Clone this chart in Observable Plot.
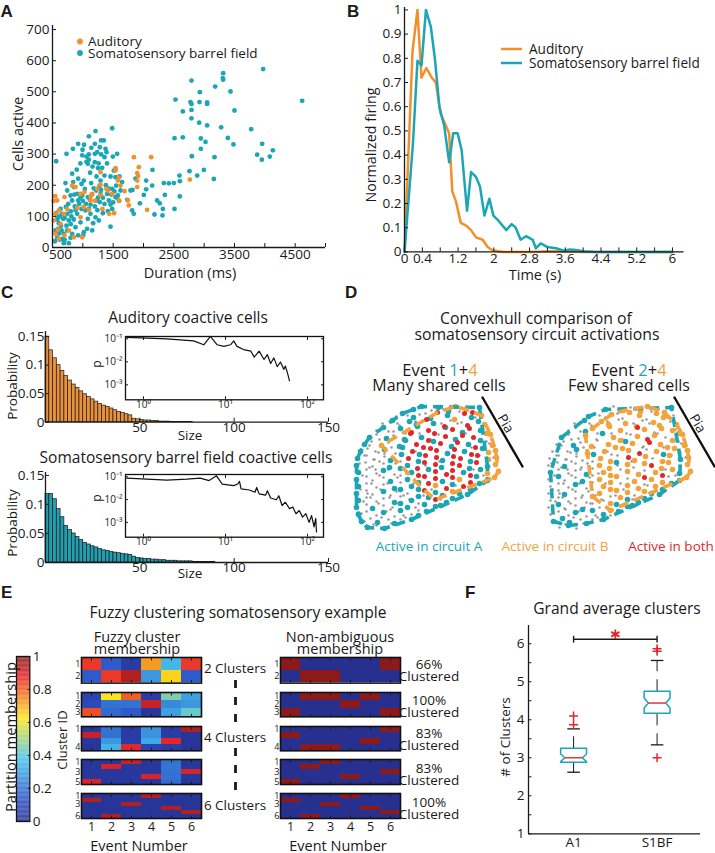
<!DOCTYPE html>
<html><head><meta charset="utf-8">
<script src="https://cdn.jsdelivr.net/npm/d3@7"></script>
<script src="https://cdn.jsdelivr.net/npm/@observablehq/plot@0.6"></script>
<style>
body{margin:0;background:#fff;}
#fig{position:relative;width:715px;height:853px;overflow:hidden;background:#fff;}
#fig svg{overflow:visible;}
</style></head><body><div id="fig"></div>
<script>
// ================= DATA =================
// Panel A: duration (ms) vs cells active
const audPts = [[577,151],[698,162],[824,199],[962,172],[1027,178],[989,33],[1154,172],[1126,164],[1291,242],[1291,202],[1236,188],[1390,188],[1412,183],[1538,247],[1577,215],[1593,224],[1687,181],[1742,151],[1758,135],[1896,194],[1896,239],[1923,258],[1841,290],[2126,290],[2060,121],[2764,218],[1434,108],[1516,110],[522,87],[549,108],[604,119],[687,108],[632,76],[588,57],[549,44],[769,55],[852,33],[962,97],[907,127],[1016,130],[1099,121],[1324,124],[742,124],[604,28],[698,39],[1484,172],[1126,151],[879,194],[1621,199],[1291,167],[1896,215],[1593,151],[1540,255],[1910,230],[520,150],[545,165],[1200,150]];
const somPts = [[2527,475],[2648,437],[2791,536],[2775,467],[2791,461],[2791,442],[2791,415],[2929,499],[2923,467],[3049,466],[3049,461],[2918,401],[3049,392],[3181,517],[3313,560],[3307,544],[3313,539],[3434,501],[3500,440],[3280,386],[3390,352],[3483,331],[3775,380],[3972,573],[4615,471],[3956,333],[4132,312],[4082,292],[3951,282],[3874,298],[3170,290],[2797,293],[2945,350],[3022,339],[2945,317],[2511,351],[2648,354],[2758,245],[2885,231],[2995,249],[3159,220],[2593,231],[2599,213],[2599,164],[2511,124],[2500,207],[2335,207],[2352,169],[2225,151],[2269,142],[2319,124],[2313,103],[2181,106],[2418,206],[2143,199],[2044,215],[2044,187],[2005,169],[2148,249],[1940,142],[1868,221],[1819,185],[1813,119],[1840,108],
[560,277],[731,301],[836,317],[923,333],[995,314],[1099,357],[1198,333],[1209,374],[1302,344],[1280,322],[1099,299],[1060,292],[1060,275],[1082,269],[1099,282],[1198,301],[1198,274],[1302,299],[1319,256],[1374,317],[1390,306],[1495,292],[1484,383],[1566,301],[1538,253],[1357,290],[1236,306],[1346,344],[989,296],
[714,207],[824,237],[841,210],[978,204],[1033,188],[1137,207],[1225,228],[1291,215],[1275,198],[1220,183],[1291,172],[1357,231],[1456,228],[1511,247],[1538,226],[1604,228],[1648,210],[1549,199],[1577,167],[1538,162],[1429,151],[1357,140],[1484,124],[1412,117],[1456,67],[1280,146],[1198,132],[1126,138],[1082,162],[989,167],[923,151],[868,132],[802,116],[978,124],[1044,119],[1126,108],[1209,97],[1264,87],[1082,92],[962,81],[879,65],[1016,49],[1005,39],[923,39],[824,44],[797,31],[742,55],[687,44],[659,28],[621,25],[577,31],[676,92],[742,108],[632,124],[588,97],[604,78],[549,55],[769,14],[687,14],[907,108],[1115,153],[1231,151],[907,172],[797,167],[742,183],[852,194],[659,108],[1154,55],[1170,78],[1401,172],[1484,188],[1621,183],[1731,153],[1786,183],[1456,138],[1016,215],[923,221],[824,151],[769,87],
[560,110],[590,60],[610,45],[640,70],[700,95],[720,130],[760,140],[810,100],[850,90],[880,120],[940,140],[960,160],[1000,150],[1050,140],[1100,125],[1150,170],[1180,190],[1250,160],[1300,185],[1330,160],[1380,200],[1420,190],[1470,170],[1520,180],[1560,160],[1600,150],[1120,240],[1160,260],[1250,255],[900,250],[960,270],[1020,330],[1140,320],[1260,270],[1400,270],[580,90],[620,100],[650,55],[700,25],[730,70],[1070,60],[1240,120],[1330,110],[1500,145],[540,20],[800,75],[860,170]];
const aTicksX = [1500,2500,3500,4500];
const aTickFirst = [500];
const aTicksY = [0,100,200,300,400,500,600,700];

// Panel B: normalized firing vs time (s)
const audT = [0,0.18,0.29,0.38,0.49,0.61,0.70,0.81,0.93,1.00,1.07,1.15,1.26,1.37,1.49,1.60,1.75,1.86,1.97,2.2,2.8,3.3,4.0,6.0];
const audV = [0,0.83,1.0,0.72,0.76,0.72,0.70,0.57,0.52,0.49,0.25,0.21,0.12,0.11,0.09,0.06,0.05,0.02,0.007,0,0,0.003,0,0];
const somT = [0,0.19,0.29,0.38,0.48,0.59,0.68,0.78,0.89,1.00,1.09,1.19,1.28,1.40,1.49,1.60,1.69,1.79,1.90,1.99,2.10,2.28,2.40,2.49,2.60,2.72,2.87,2.94,3.05,3.20,3.39,3.57,3.70,3.84,4.00,4.28,6.0];
const somV = [0,0.45,0.79,0.77,1.0,0.93,0.80,0.60,0.52,0.37,0.49,0.49,0.42,0.17,0.33,0.31,0.27,0.15,0.22,0.15,0.13,0.09,0.115,0.10,0.05,0.065,0.05,0.015,0.035,0.02,0.015,0.005,0.01,0.008,0.003,0,0];
const bTickLabels = [0,0.4,1.2,2,2.8,3.6,4.4,5.2,6];

// Panel C: size histograms (bins of 2) and log-log insets
const audHist = [0.150,0.126,0.112,0.100,0.090,0.081,0.073,0.066,0.060,0.054,0.049,0.044,0.040,0.036,0.032,0.029,0.027,0.024,0.021,0.018,0.016,0.014,0.012,0.006,0.005,0.004,0.003,0.003,0.002,0.002,0.001,0.001,0.001,0.0006,0.0005,0.0005,0.0004,0.0004,0.0003];
const somHist = [0.118,0.118,0.109,0.092,0.078,0.063,0.056,0.050,0.044,0.039,0.034,0.031,0.028,0.026,0.023,0.021,0.020,0.018,0.017,0.016,0.015,0.014,0.013,0.010,0.008,0.007,0.006,0.006,0.005,0.005,0.004,0.004,0.003,0.003,0.003,0.002,0.002,0.002,0.002,0.001,0.001,0.001,0.001,0.001,0.001];
const audInSize = [0.625,1.93,4.09,5.43,6.55,7.91,9.55,11.5,12.6,13.8,16.6,20.4,22.4,25.7,29.5,32.4,35.5,38.9,42.7,46.8,51.3,53.7,57.5,60.3];
const audInP = [0.115,0.1,0.081,0.055,0.126,0.055,0.047,0.055,0.081,0.047,0.034,0.029,0.016,0.029,0.0126,0.0204,0.0085,0.0148,0.0062,0.0098,0.0047,0.0065,0.0029,0.0015];
const somInSize = [0.625,1.93,3.39,4.9,6.31,7.76,9.12,12.6,14.1,14.8,15.5,19.5,22.9,24,25.7,30.9,32.4,35.5,41.7,44.7,49,53.7,60.3,66.1,72.4,79.4,87.1,95.5,104.7,112.2,120.2,125.9,128.8];
const somInP = [0.087,0.072,0.079,0.087,0.068,0.11,0.048,0.041,0.048,0.063,0.0295,0.0263,0.0209,0.0339,0.0178,0.0158,0.0245,0.0117,0.0098,0.0148,0.0055,0.0076,0.004,0.0047,0.0024,0.0033,0.0017,0.0024,0.001,0.002,0.00063,0.0015,0.00038];

// Panel D: cell positions (rows) and activity per event pair
const cellU = [
[58,66,76,83,93,100,111,117,124],
[41,47,58,64,75,82,92,99,109,116,126],
[27,37,44,54,61,71,78,89,95,106,112,123,129],
[21,28,38,45,56,62,73,79,90,97,107,114,125,131],
[14,21,31,38,49,55,66,73,83,90,100,107,118,125,135],
[9,16,26,33,44,50,61,68,78,85,96,102,113,120,131,137],
[5,12,23,29,40,47,57,64,75,81,92,99,109,116,127,133,140],
[2,11,18,29,35,46,53,63,70,81,87,98,105,115,122,133,141],
[1,10,17,28,34,45,52,62,69,80,86,97,104,114,121,132,140],
[3,11,21,28,39,45,56,63,73,80,91,97,108,115,125,132,143],
[1,11,17,28,35,45,52,63,69,80,87,97,104,115,121,132,139],
[3,11,21,28,39,45,56,63,73,80,91,97,108,115,124],
[1,11,17,28,35,45,52,63,69,80,87,97,104,112],
[3,11,21,28,39,45,56,63,73,80,91,97],
[1,11,17,28,35,45,52,63,69,80,85],
[3,11,21,28,39,45,56,63,71],
[6,15,22,33,39,50,56],
[12,21,29]];
const cellV = [
[6,3,7,4,8,3,6,9,4],
[13,10,14,11,15,9,12,16,10,14,12],
[20,17,22,18,21,16,20,23,17,19,22,18,21],
[27,24,28,25,29,23,27,30,24,26,29,25,27,30],
[34,31,35,32,36,30,34,37,31,33,36,32,34,37,31],
[41,38,42,39,43,37,41,44,38,40,43,39,41,44,38,42],
[48,45,49,46,50,44,48,51,45,47,50,46,48,51,45,49,47],
[55,52,56,53,57,51,55,58,52,54,57,53,55,58,52,56,54],
[62,59,63,60,64,58,62,65,59,61,64,60,62,65,59,63,61],
[69,66,70,67,71,65,69,72,66,68,71,67,69,72,66,70,68],
[76,73,77,74,78,72,76,79,73,75,78,74,76,79,73,77,74],
[83,80,84,81,85,79,83,86,80,82,85,81,83,86,80],
[90,87,91,88,92,86,90,93,87,89,92,88,90,91],
[97,94,98,95,99,93,97,100,94,96,99,95],
[104,101,105,102,106,100,104,107,101,103,102],
[111,108,112,109,113,107,111,112,108],
[118,115,119,116,120,114,116],
[124,122,125]];
// extra inactive cells (never active in either event pair)
const quietCells = [[4,60],[7,72],[5,86],[8,98],[6,110],[14,64],[16,80],[15,94],[18,106],[24,58],[24,72],[25,86],[23,100],[26,114],[33,66],[32,80],[34,94],[31,108],[40,60],[42,74],[41,88],[43,100],[48,112],[14,42],[20,48],[24,36],[33,28],[36,44],[42,20],[50,30],[52,12],[60,18],[70,10],[88,6],[104,8],[120,14],[128,26],[134,40],[138,54],[110,30],[95,44],[84,58],[70,62],[60,48],[75,36],[58,80],[68,92],[85,96],[100,82],[118,66],[128,72],[60,104],[48,92],[9,118],[18,121],[36,120],[45,116],[19,56],[29,50],[9,52],[12,90],[20,66],[37,104],[51,70],[64,30],[86,20],[102,20],[116,44],[124,52],[92,70],[76,86],[54,96]];
// a = active in circuit A, b = circuit B, r = both, g = inactive
const catEvent14 = ["aagaa bbra","gaaga rabra b","gagaa rargg rab","gagar arrar arab","agaga rargr arrab","agbga arrar arar gb","aggag arar rarar abb","aggga ararr arrar bb","aggga garrr arrar ab","aggag aarar rrara bb","aggga gaarr arbra ab","aggga gaarb raraa","aggag agara abaa","aggga gagar aa","agagg aagaa a","aggag agaa","agaga ga","aga"];
const catEvent24 = ["agbgb bgba","aggbg bbgbb g","gagbb gbbgb bgb","ggabg bbgrb gbbb","aggbg abbgb rbgbb","ggagb gbbab grbbg b","gggab gbgbb rgbab gb","ggggg abbgr bbgbb ab","ggagg gbbab gbrbb gb","aggga gbbgb bgbrb ab","gagga gbbbg brbbg ab","gggag gbbgb bgbaa","ggagg gbgbb gbaa","ggggg bgbba aa","gagga ggbaa a","gggag aaga","aaaga ga","gag"];

// Panel E: fuzzy memberships (rows = clusters, cols = events 1..6) and hard assignments
const fuzzy2 = [[0.85,0.15,0.05,0.72,0.35,0.85],[0.15,0.85,0.95,0.28,0.65,0.15]];
const fuzzy3 = [[0.08,0.62,0.80,0.05,0.45,0.30],[0.10,0.20,0.20,0.92,0.25,0.28],[0.82,0.18,0.15,0.03,0.30,0.42]];
const fuzzy4 = [[0.03,0.20,0.05,0.27,0.05,0.95],[0.92,0.20,0.05,0.27,0.05,0.02],[0.03,0.28,0.05,0.32,0.88,0.02],[0.02,0.34,0.88,0.08,0.05,0.02]];
const fuzzy5 = [[0.03,0.03,0.92,0.03,0.20,0.03],[0.03,0.90,0.03,0.03,0.21,0.03],[0.03,0.03,0.03,0.03,0.20,0.90],[0.03,0.03,0.03,0.90,0.20,0.03],[0.90,0.03,0.03,0.03,0.19,0.03]];
const fuzzy6 = [[0.02,0.02,0.02,0.95,0.02,0.02],[0.95,0.02,0.02,0.02,0.02,0.02],[0.02,0.02,0.95,0.02,0.02,0.02],[0.02,0.02,0.02,0.02,0.95,0.02],[0.02,0.02,0.02,0.02,0.02,0.95],[0.02,0.95,0.02,0.02,0.02,0.02]];
const hardAssign = [[1,2,2,0,0,1],[3,1,1,2,1,3],[2,4,4,0,3,1],[5,2,1,4,0,3],[2,6,3,1,4,5]];
const clusterCounts = [2,3,4,5,6];
const rowLabels = [[1,2],[1,2,3],[1,4],[1,3,5],[1,3,6]];
const pctClustered = ["66%","100%","83%","83%","100%"];
const eventNums = [1,2,3,4,5,6];

// Panel F: box plot statistics
const boxNames = ["A1","S1BF"];
const boxLo = [2.62,3.34], boxQ1 = [2.88,4.17], boxMed = [3.0,4.44], boxQ3 = [3.25,4.75], boxHi = [3.76,5.56];
const boxNotch = [0.1,0.13];
const outGroup = [1,1,2,2,2], outVal = [3.87,4.1,5.8,5.87,3.0];

// ================= HELPERS =================
const teal = "#1ba6b6", orange = "#f2902c", dOrange = "#f3a23c", red = "#e3262b", grayc = "#9a9a9a", ink = "#1a1a1a";
const FONT = "'Open Sans', sans-serif";
const fig = document.getElementById("fig");
function framePlot(x0, y0, x1, y1, opts, M = 40) {
  const w = x1 - x0, h = y1 - y0;
  const st = Object.assign({background: "transparent", fontFamily: FONT, fontSize: "13px", color: ink, overflow: "visible", maxWidth: "none"}, opts.style || {});
  const p = Plot.plot(Object.assign({width: w + 2*M, height: h + 2*M, marginLeft: M, marginRight: M, marginTop: M, marginBottom: M}, opts, {style: st}));
  const d = document.createElement("div");
  d.style.position = "absolute"; d.style.left = (x0 - M) + "px"; d.style.top = (y0 - M) + "px"; d.style.width = (w + 2*M) + "px";
  d.appendChild(p); fig.appendChild(d);
}
const fmt1 = d => String(+(+d).toFixed(2));
const blank = () => "";
const sup = {"-3":"⁻³","-2":"⁻²","-1":"⁻¹","0":"⁰","1":"¹","2":"²"};
const logFmt = d => "10" + sup[String(Math.round(Math.log10(d)))];
const jet = d3.scaleLinear().domain([0,0.125,0.375,0.625,0.875,1]).range(["#27308f","#2c4fc6","#46c3ee","#fde51a","#e8262a","#8c1a1b"]).clamp(true);

// ================= PANEL A =================
framePlot(52, 25, 325, 247, {
  x: {domain: [500, 5000]}, y: {domain: [0, 713]},
  style: {fontSize: "13.5px"},
  marks: [
    Plot.dot(somPts, {x: d => d[0], y: d => d[1], r: 2.4, fill: teal}),
    Plot.dot(audPts, {x: d => d[0], y: d => d[1], r: 2.4, fill: orange}),
    Plot.ruleX([500], {stroke: ink, strokeWidth: 1.3}),
    Plot.ruleY([0], {stroke: ink, strokeWidth: 1.3}),
    Plot.axisX(d3.range(500, 5001, 500), {tickSize: -4, tickFormat: blank, label: null}),
    Plot.axisX(aTicksX, {tickSize: 0, tickPadding: 2, tickFormat: d => String(d), label: null}),
    Plot.axisX(aTickFirst, {tickSize: 0, tickPadding: 2, dx: 8, tickFormat: d => String(d), label: null}),
    Plot.axisY(aTicksY, {tickSize: -4, tickFormat: blank, label: null}),
    Plot.axisY(aTicksY, {tickSize: 0, tickPadding: 3, tickFormat: d => String(d), label: null})
  ]
});

// ================= PANEL B =================
const audB = audT.map((t, i) => ({t, v: audV[i]}));
const somB = somT.map((t, i) => ({t, v: somV[i]}));
framePlot(403.7, 6.6, 683.3, 251, {
  x: {domain: [0, 6.26]}, y: {domain: [0, 1.01]},
  style: {fontSize: "13.5px"},
  marks: [
    Plot.line(audB, {x: "t", y: "v", stroke: orange, strokeWidth: 2.5}),
    Plot.line(somB, {x: "t", y: "v", stroke: teal, strokeWidth: 2.5}),
    Plot.ruleX([0], {stroke: ink, strokeWidth: 1.3}),
    Plot.ruleY([0], {stroke: ink, strokeWidth: 1.3}),
    Plot.axisX(d3.range(0, 16).map(i => i * 0.4), {tickSize: -4, tickFormat: blank, label: null}),
    Plot.axisX(bTickLabels, {tickSize: 0, tickPadding: 2, tickFormat: fmt1, label: null}),
    Plot.axisY(d3.range(0, 11).map(i => i / 10), {tickSize: -4, tickFormat: blank, label: null}),
    Plot.axisY(d3.range(0, 11).map(i => i / 10), {tickSize: 0, tickPadding: 3, tickFormat: fmt1, label: null})
  ]
});

// ================= PANEL C =================
function histPlot(vals, fill, y0, y1, ymax) {
  const bars = vals.map((v, i) => ({a: i * 2, b: i * 2 + 2, v}));
  framePlot(45, y0, 328, y1, {
    x: {domain: [0, 150]}, y: {domain: [0, ymax]},
    style: {fontSize: "13.5px"},
    marks: [
      Plot.rect(bars, {x1: "a", x2: "b", y1: 0, y2: "v", fill, stroke: "#1a1a1a", strokeWidth: 0.7}),
      Plot.ruleX([0], {stroke: ink, strokeWidth: 1.3}),
      Plot.ruleY([0], {stroke: ink, strokeWidth: 1.3}),
      Plot.axisX([50, 100, 150], {tickSize: -4, tickFormat: blank, label: null}),
      Plot.axisX([50, 100, 150], {tickSize: 0, tickPadding: 0, label: null}),
      Plot.axisY([0, 0.05, 0.1, 0.15], {tickSize: -4, tickFormat: blank, label: null}),
      Plot.axisY([0, 0.05, 0.1, 0.15], {tickSize: 0, tickPadding: 1, tickFormat: fmt1, label: null})
    ]
  });
}
function insetPlot(size, p, y0, y1) {
  const pts = size.map((s, i) => ({s, p: p[i]}));
  const xt = [1, 10, 100], yt = [0.1, 0.01, 0.001];
  framePlot(125, y0, 323, y1, {
    x: {type: "log", domain: [0.603, 156.7]}, y: {type: "log", domain: [Math.pow(10, -3.65), Math.pow(10, -0.9)]},
    style: {fontSize: "10px"},
    marks: [
      Plot.frame({fill: "white", stroke: "none"}),
      Plot.line(pts, {x: "s", y: "p", stroke: "#111", strokeWidth: 1.2}),
      Plot.frame({stroke: "#111", strokeWidth: 1.3}),
      Plot.axisX(xt, {anchor: "bottom", tickSize: -3, tickFormat: blank, label: null}),
      Plot.axisX(xt, {anchor: "top", tickSize: -3, tickFormat: blank, label: null}),
      Plot.axisX(xt, {anchor: "bottom", tickSize: 0, tickPadding: 1, tickFormat: logFmt, label: null}),
      Plot.axisY(yt, {anchor: "left", tickSize: -3, tickFormat: blank, label: null}),
      Plot.axisY(yt, {anchor: "right", tickSize: -3, tickFormat: blank, label: null}),
      Plot.axisY(yt, {anchor: "left", tickSize: 0, tickPadding: 3, tickFormat: logFmt, label: null})
    ]
  });
}
histPlot(audHist, "#ea903a", 331, 421.7, 0.159);
insetPlot(audInSize, audInP, 335.7, 399);
histPlot(somHist, "#1f9fb0", 471.7, 561.7, 0.155);
insetPlot(somInSize, somInP, 474, 536.7);

// ================= PANEL D =================
function cellsFor(cats) {
  const out = quietCells.map(([u, v]) => ({u, v, c: "g"}));
  cellU.forEach((row, r) => {
    const s = cats[r].replace(/\s/g, "");
    row.forEach((u, i) => out.push({u, v: cellV[r][i], c: s[i] || "g"}));
  });
  return out;
}
function convexPanel(cats, x0) {
  const cells = cellsFor(cats);
  const pia = [{u: 127, v: -6}, {u: 167, v: 63}];
  framePlot(x0, 403, x0 + 150, 528, {
    x: {domain: [0, 150], axis: null}, y: {domain: [0, 125], reverse: true, axis: null},
    marks: [
      Plot.dot(cells.filter(d => d.c === "g"), {x: "u", y: "v", r: 1.3, fill: grayc}),
      Plot.dot(cells.filter(d => d.c === "a"), {x: "u", y: "v", r: 2.8, fill: teal}),
      Plot.dot(cells.filter(d => d.c === "b"), {x: "u", y: "v", r: 2.8, fill: dOrange}),
      Plot.dot(cells.filter(d => d.c === "r"), {x: "u", y: "v", r: 2.5, fill: red}),
      Plot.hull(cells.filter(d => d.c === "a" || d.c === "r"), {x: "u", y: "v", stroke: teal, strokeWidth: 3.6, strokeDasharray: "10,6"}),
      Plot.hull(cells.filter(d => d.c === "b" || d.c === "r"), {x: "u", y: "v", stroke: dOrange, strokeWidth: 3.6, strokeDasharray: "10,6"}),
      Plot.line(pia, {x: "u", y: "v", stroke: "#111", strokeWidth: 2.4}),
      Plot.text(["Pia"], {x: () => 150, y: () => 20, text: d => d, rotate: 60, fontSize: 13.5, fill: ink})
    ]
  });
}
convexPanel(catEvent14, 355);
convexPanel(catEvent24, 547);

// ================= PANEL E =================
const hmTops = [656.7, 691.7, 725.7, 759.3, 793.3];
const hmBots = [682.3, 716, 750, 784.3, 818.3];
const fuzzyAll = [fuzzy2, fuzzy3, fuzzy4, fuzzy5, fuzzy6];
function heatmap(mat, x0, k, last) {
  const n = mat.length;
  const cells = [];
  mat.forEach((row, r) => row.forEach((v, e) => cells.push({e: e + 1, r: r + 1, c: jet(v)})));
  const marks = [
    Plot.cell(cells, {x: "e", y: "r", fill: "c", inset: 0}),
    Plot.frame({stroke: "#111", strokeWidth: 1.6}),
    Plot.axisX(eventNums, {anchor: "top", tickSize: -2.5, tickFormat: blank, label: null}),
    Plot.axisX(eventNums, {anchor: "bottom", tickSize: -2.5, tickFormat: blank, label: null}),
    Plot.axisY(rowLabels[k], {tickSize: 0, tickPadding: 1, fontSize: 9, label: null})
  ];
  if (last) marks.push(Plot.axisX(eventNums, {anchor: "bottom", tickSize: 0, tickPadding: 4, fontSize: 12.5, label: null}));
  framePlot(x0, hmTops[k], x0 + 120, hmBots[k], {
    x: {type: "band", domain: eventNums, padding: 0},
    y: {type: "band", domain: d3.range(1, n + 1), padding: 0},
    color: {type: "identity"},
    marks
  }, 20);
}
fuzzyAll.forEach((m, k) => heatmap(m, 80.5, k, k === 4));
hardAssign.forEach((asg, k) => {
  const n = clusterCounts[k];
  const mat = d3.range(n).map(r => asg.map(a => a === r + 1 ? 1 : 0));
  heatmap(mat, 279.7, k, k === 4);
});
// colorbar
framePlot(16, 655.5, 29.3, 820.5, {
  x: {domain: [0, 1], axis: null}, y: {domain: [0, 1]},
  color: {type: "identity"},
  marks: [
    Plot.rect(d3.range(0, 200).map(i => i / 200), {x1: 0, x2: 1, y1: d => d, y2: d => d + 0.0052, fill: d => jet(d + 0.0025)}),
    Plot.frame({stroke: "#111", strokeWidth: 1.3}),
    Plot.axisY([0, 0.2, 0.4, 0.6, 0.8, 1], {anchor: "right", tickSize: -2.5, tickFormat: blank, label: null}),
    Plot.axisY([0, 0.2, 0.4, 0.6, 0.8, 1], {anchor: "right", tickSize: 0, tickPadding: 3, tickFormat: fmt1, fontSize: 13.5, label: null})
  ]
}, 30);

// ================= PANEL F =================
const boxHalf = 0.155, indent = 0.05, capHalf = 0.075;
const boxPoly = [];
boxMed.forEach((m, i) => {
  const c = i + 1, L = c - boxHalf, R = c + boxHalf, n = boxNotch[i];
  [[L, boxQ1[i]], [L, m - n], [L + indent, m], [L, m + n], [L, boxQ3[i]], [R, boxQ3[i]], [R, m + n], [R - indent, m], [R, m - n], [R, boxQ1[i]], [L, boxQ1[i]]]
    .forEach(([x, y]) => boxPoly.push({g: i, x, y}));
});
const bidx = [0, 1];
framePlot(528, 625, 700, 833.3, {
  x: {domain: [0.46, 2.52]}, y: {domain: [1, 6.48]},
  style: {fontSize: "13.5px"},
  marks: [
    Plot.link(bidx, {x1: i => i + 1, x2: i => i + 1, y1: i => boxQ3[i], y2: i => boxHi[i], stroke: ink, strokeWidth: 1, strokeDasharray: "12,8"}),
    Plot.link(bidx, {x1: i => i + 1, x2: i => i + 1, y1: i => boxQ1[i], y2: i => boxLo[i], stroke: ink, strokeWidth: 1, strokeDasharray: "12,8"}),
    Plot.link(bidx, {x1: i => i + 1 - capHalf, x2: i => i + 1 + capHalf, y1: i => boxHi[i], y2: i => boxHi[i], stroke: ink, strokeWidth: 1.3}),
    Plot.link(bidx, {x1: i => i + 1 - capHalf, x2: i => i + 1 + capHalf, y1: i => boxLo[i], y2: i => boxLo[i], stroke: ink, strokeWidth: 1.3}),
    Plot.line(boxPoly, {x: "x", y: "y", z: "g", stroke: teal, strokeWidth: 1.5}),
    Plot.link(bidx, {x1: i => i + 1 - boxHalf + indent, x2: i => i + 1 + boxHalf - indent, y1: i => boxMed[i], y2: i => boxMed[i], stroke: red, strokeWidth: 1.4}),
    Plot.dot(outVal, {x: (d, i) => outGroup[i], y: d => d, symbol: "plus", r: 3, stroke: red, strokeWidth: 1.5}),
    Plot.link([0], {x1: 1, x2: 2, y1: 6.12, y2: 6.12, stroke: ink, strokeWidth: 1.4}),
    Plot.link([1, 2], {x1: d => d, x2: d => d, y1: 6.03, y2: 6.21, stroke: ink, strokeWidth: 1.4}),
    Plot.dot([1.5], {x: d => d, y: 6.25, symbol: "asterisk", r: 4.5, stroke: red, strokeWidth: 1.8}),
    Plot.ruleX([0.46], {stroke: ink, strokeWidth: 1.3}),
    Plot.ruleY([1], {stroke: ink, strokeWidth: 1.3}),
    Plot.axisY(d3.range(0, 11).map(i => 1 + i * 0.5), {tickSize: -3.5, tickFormat: blank, label: null}),
    Plot.axisY([1, 2, 3, 4, 5, 6], {tickSize: 0, tickPadding: 4, tickFormat: d => String(d), label: null}),
    Plot.axisX([1, 2], {tickSize: 0, tickPadding: 4, tickFormat: d => boxNames[d - 1], label: null})
  ]
});

// ================= TEXT OVERLAY =================
const ov = d3.select(fig).append("svg").attr("width", 715).attr("height", 853)
  .style("position", "absolute").style("left", "0px").style("top", "0px").style("overflow", "visible")
  .style("font-family", FONT);
function T(x, y, s, size, o = {}) {
  const t = ov.append("text").attr("x", x).attr("y", y).attr("font-size", size)
    .attr("dominant-baseline", "central").attr("text-anchor", o.anchor || "middle").attr("fill", o.fill || ink);
  if (o.rotate) t.attr("transform", `rotate(${o.rotate},${x},${y})`);
  if (o.weight) t.attr("font-weight", o.weight);
  if (o.family) t.attr("font-family", o.family);
  if (Array.isArray(s)) s.forEach(([str, col]) => t.append("tspan").attr("fill", col || ink).text(str)); else t.text(s);
  return t;
}
const LB = {anchor: "start", weight: "bold", family: "'Liberation Sans', Arial, sans-serif"};
T(0.5, 11, "A", 17, LB); T(347, 11, "B", 17, LB); T(1, 292, "C", 17, LB);
T(345, 292, "D", 17, LB); T(1, 592, "E", 17, LB); T(465, 592, "F", 17, LB);
// A
ov.append("circle").attr("cx", 80).attr("cy", 41.5).attr("r", 2.9).attr("fill", orange);
ov.append("circle").attr("cx", 80).attr("cy", 53).attr("r", 2.9).attr("fill", teal);
T(88, 41, "Auditory", 13.5, {anchor: "start"});
T(88, 52.5, "Somatosensory barrel field", 13.5, {anchor: "start"});
T(17, 134, "Cells active", 14.5, {rotate: -90});
T(190, 272, "Duration (ms)", 14.5);
// B
ov.append("line").attr("x1", 501).attr("x2", 522).attr("y1", 49).attr("y2", 49).attr("stroke", orange).attr("stroke-width", 2.5);
ov.append("line").attr("x1", 501).attr("x2", 522).attr("y1", 63).attr("y2", 63).attr("stroke", teal).attr("stroke-width", 2.5);
T(529, 48.5, "Auditory", 13.6, {anchor: "start"});
T(529, 62.5, "Somatosensory barrel field", 13.6, {anchor: "start"});
T(370, 145, "Normalized firing", 14.3, {rotate: -90});
T(535, 274, "Time (s)", 14.5);
// C
T(188, 317, "Auditory coactive cells", 15.5);
T(12, 386, "Probability", 13.5, {rotate: -90});
T(190, 435, "Size", 13.5);
T(96, 364, "p", 12, {rotate: -90});
T(186, 457, "Somatosensory barrel field coactive cells", 15.5);
T(12, 523, "Probability", 13.5, {rotate: -90});
T(190, 573, "Size", 13.5);
T(96, 498, "p", 12, {rotate: -90});
// D
T(536, 318, "Convexhull comparison of", 15.8);
T(537, 333.5, "somatosensory circuit activations", 15.8);
T(440, 369, [["Event "], ["1", teal], ["+"], ["4", dOrange]], 16.5);
T(439, 385, "Many shared cells", 16);
T(629, 369, [["Event "], ["2", teal], ["+"], ["4", dOrange]], 16.5);
T(629, 385, "Few shared cells", 16);
T(429, 546, "Active in circuit A", 13.5, {fill: teal});
T(555, 546, "Active in circuit B", 13.5, {fill: dOrange});
T(671, 546, "Active in both", 13.5, {fill: red});
// E
T(238, 612, "Fuzzy clustering somatosensory example", 15.6);
T(137, 636, "Fuzzy cluster", 14.5); T(137, 648, "membership", 14.5);
T(340, 636, "Non-ambiguous", 14.5); T(340, 648, "membership", 14.5);
T(10, 737, "Partition membership", 14.7, {rotate: -90});
T(62, 740, "Cluster ID", 13, {rotate: -90});
T(235, 668, "2 Clusters", 13.5); T(235, 737, "4 Clusters", 13.5); T(235, 805, "6 Clusters", 13.5);
ov.append("line").attr("x1", 235.5).attr("x2", 235.5).attr("y1", 680).attr("y2", 724).attr("stroke", ink).attr("stroke-width", 2.8).attr("stroke-dasharray", "8,9");
ov.append("line").attr("x1", 235.5).attr("x2", 235.5).attr("y1", 748).attr("y2", 791).attr("stroke", ink).attr("stroke-width", 2.8).attr("stroke-dasharray", "8,9");
const pctY = [664, 700, 733, 768, 802];
pctClustered.forEach((p, k) => { T(429, pctY[k], p, 13.5); T(429, pctY[k] + 11.5, "Clustered", 13.5); });
T(139, 845, "Event Number", 14.5); T(338, 845, "Event Number", 14.5);
// F
T(617, 608, "Grand average clusters", 15.6);
T(505, 737, "# of Clusters", 13.5, {rotate: -90});
</script></body></html>
